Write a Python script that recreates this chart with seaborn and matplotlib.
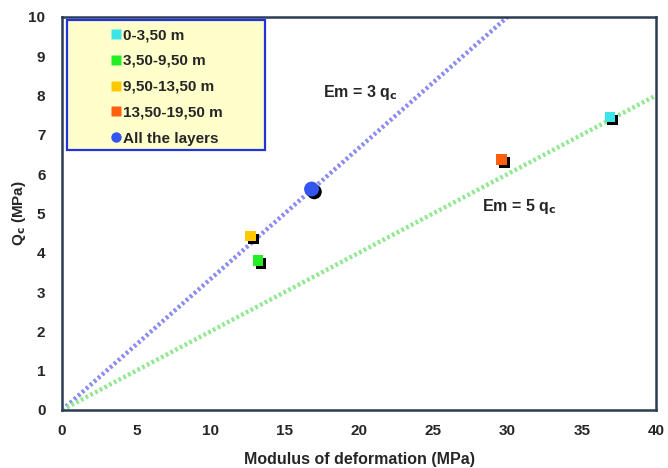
import matplotlib
matplotlib.use("Agg")
import matplotlib.pyplot as plt
import matplotlib.patheffects as pe
from matplotlib.lines import Line2D
from matplotlib.patches import Rectangle
import seaborn as sns
import pandas as pd

sns.set_style("white")
plt.rcParams['font.family'] = ['Liberation Sans', 'DejaVu Sans']
plt.rcParams['font.weight'] = 'bold'

layers = ["0-3,50 m", "3,50-9,50 m", "9,50-13,50 m", "13,50-19,50 m", "All the layers"]
modulus = [36.9, 13.2, 12.7, 29.6, 16.8]
qc = [7.45, 3.8, 4.42, 6.37, 5.62]
colors = ["#3CE6E6", "#22EE22", "#FFC800", "#FF6010", "#3355EE"]
markers = ["s", "s", "s", "s", "o"]
sizes = [58, 58, 58, 58, 115]

line3_E = [0, 30]
line3_q = [0, 10]
line5_E = [0, 40]
line5_q = [0, 8]

df = pd.DataFrame({"layer": layers, "E": modulus, "qc": qc})

fig = plt.figure(figsize=(6.68, 4.68), dpi=100)
ax = fig.add_axes([0.093, 0.124, 0.889, 0.840])

sns.lineplot(x=line3_E, y=line3_q, ax=ax, color="#8C8CF0", lw=3.2, linestyle=(0, (0.6, 0.6)))
sns.lineplot(x=line5_E, y=line5_q, ax=ax, color="#90E890", lw=3.2, linestyle=(0, (0.6, 0.6)))

for lay, c, m, s in zip(layers, colors, markers, sizes):
    sub = df[df["layer"] == lay]
    sns.scatterplot(data=sub, x="E", y="qc", ax=ax, color=c, marker=m, s=s,
                    edgecolor="none", zorder=5, legend=False)
    ax.collections[-1].set_path_effects([pe.SimplePatchShadow(offset=(2, -2), shadow_rgbFace="black", alpha=1.0), pe.Normal()])

ax.set_xlim(0, 40)
ax.set_ylim(0, 10)
ax.set_xticks(range(0, 41, 5))
ax.set_yticks(range(0, 11, 1))
ax.tick_params(axis="both", labelsize=11, length=4, direction="in", width=1, color="#555555")
ax.tick_params(axis="x", pad=10)
ax.tick_params(axis="y", pad=12)
for lbl in ax.get_xticklabels() + ax.get_yticklabels():
    lbl.set_fontweight("bold")
for sp in ax.spines.values():
    sp.set_color("#2B3A55")
    sp.set_linewidth(1.8)

ax.set_xlabel("Modulus of deformation (MPa)", fontsize=11.5, fontweight="bold", labelpad=10)
ax.set_ylabel("Q$_\\mathbf{c}$ (MPa)", fontsize=11, fontweight="bold")
ax.yaxis.set_label_coords(-0.058, 0.5)

ax.text(17.55, 7.95, "Em = 3 q$_\\mathbf{c}$", fontsize=11.5, fontweight="bold")
ax.text(28.3, 5.05, "Em = 5 q$_\\mathbf{c}$", fontsize=11.5, fontweight="bold")

# legend background box
ax.add_patch(Rectangle((0.009, 0.662), 0.333, 0.33, transform=ax.transAxes,
                       facecolor="#FFFFCC", edgecolor="#2233DD", linewidth=1.6, zorder=6))

handles = []
for lay, c, m in zip(layers, colors, markers):
    handles.append(Line2D([], [], marker=m, color="none", markerfacecolor=c, markeredgecolor="none",
                          markersize=6.5 if m == "s" else 7.5, label=lay))
leg = ax.legend(handles=handles, loc="upper left", bbox_to_anchor=(0.0657, 0.991), frameon=False,
                handlelength=1.0, handletextpad=-0.05, labelspacing=0.78, borderpad=0.0,
                prop={"weight": "bold", "size": 11})
leg.set_zorder(7)

fig.savefig("out.png", dpi=100)
